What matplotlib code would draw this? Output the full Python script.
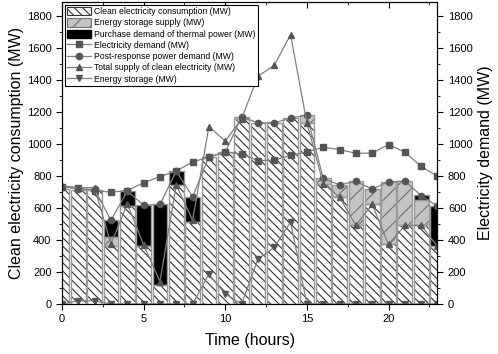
import numpy as np
import matplotlib.pyplot as plt
from matplotlib.patches import Patch
from matplotlib.lines import Line2D
from matplotlib.ticker import MultipleLocator

plt.rcParams['font.family'] = ['Liberation Sans', 'DejaVu Sans']
plt.rcParams['hatch.linewidth'] = 0.8

hours = np.arange(24)

# stacked bars (MW)
clean_use = [720, 715, 715, 362, 615, 362, 122, 748, 512, 922, 950, 1155,
             1134, 1134, 1163, 1130, 753, 669, 492, 623, 373, 492, 492, 360]
storage_supply = [0, 0, 0, 57, 0, 0, 0, 0, 0, 0, 0, 15,
                  0, 0, 0, 52, 33, 77, 277, 96, 392, 277, 161, 0]
thermal = [0, 0, 0, 105, 92, 256, 501, 84, 159, 0, 0, 0,
           0, 0, 0, 0, 0, 0, 0, 0, 0, 0, 28, 252]

# line series (MW)
demand = [735, 725, 710, 700, 710, 759, 798, 832, 889, 920, 950, 940,
          898, 900, 931, 952, 981, 967, 943, 945, 998, 950, 862, 799]
post_response = [735, 720, 717, 524, 707, 618, 623, 832, 671, 922, 950, 1170,
                 1134, 1134, 1163, 1182, 786, 746, 769, 719, 765, 769, 679, 612]
clean_supply = [740, 728, 728, 375, 627, 371, 140, 746, 524, 1111, 1019, 1160,
                1426, 1493, 1686, 1133, 753, 669, 492, 623, 373, 492, 492, 360]
storage = [0, 20, 20, 0, 0, 0, 0, 0, 0, 187, 62, 0,
           281, 354, 514, 0, 0, 0, 0, 0, 0, 0, 0, 0]

fig = plt.figure(figsize=(4.98, 3.54), dpi=100)
ax = fig.add_axes([0.1245, 0.1412, 0.754, 0.853])

w = 0.9
edge = '#9a9a9a'
hatch_clean = '\\\\\\\\'
clean_use = np.array(clean_use)
storage_supply = np.array(storage_supply)
thermal = np.array(thermal)

# fill + hatch, then outline on top (keeps hatch dark and edge light)
ax.bar(hours, clean_use, w, color='white', edgecolor='#333333', hatch=hatch_clean, linewidth=0)
ax.bar(hours, storage_supply, w, bottom=clean_use, color='#c4c4c4',
       edgecolor='#707070', hatch='//', linewidth=0)
ax.bar(hours, thermal, w, bottom=clean_use + storage_supply, color='black', linewidth=0)
for b, h in [(0, clean_use), (clean_use, storage_supply),
             (clean_use + storage_supply, thermal)]:
    hh = np.array(h)
    ax.bar(hours[hh > 0], hh[hh > 0], w, bottom=np.broadcast_to(b, hours.shape)[hh > 0],
           fill=False, edgecolor=edge, linewidth=1.0)

lc = '#808080'
mc = '#555555'
kw = dict(color=lc, linewidth=0.9, markerfacecolor=mc, markeredgecolor=mc)
ax.plot(hours, demand, marker='s', markersize=4, **kw)
ax.plot(hours, post_response, marker='o', markersize=4.5, **kw)
ax.plot(hours, clean_supply, marker='^', markersize=5, **kw)
ax.plot(hours, storage, marker='v', markersize=5, **kw)

ax.set_xlim(0, 23)
ax.set_ylim(0, 1890)
ax.xaxis.set_major_locator(MultipleLocator(5))
ax.xaxis.set_minor_locator(MultipleLocator(2.5))
ax.yaxis.set_major_locator(MultipleLocator(200))
ax.yaxis.set_minor_locator(MultipleLocator(100))
ax.tick_params(which='both', direction='out', labelsize=8, top=True)
ax.tick_params(which='major', length=4)
ax.tick_params(which='minor', length=2.5)
ax.set_xlabel('Time (hours)', fontsize=11.5, labelpad=6)
ax.set_ylabel('Clean electricity consumption (MW)', fontsize=11.5, labelpad=2)

ax2 = ax.twinx()
ax2.set_ylim(ax.get_ylim())
ax2.yaxis.set_major_locator(MultipleLocator(200))
ax2.yaxis.set_minor_locator(MultipleLocator(100))
ax2.tick_params(which='both', direction='out', labelsize=8)
ax2.tick_params(which='major', length=4)
ax2.tick_params(which='minor', length=2.5)
ax2.set_ylabel('Electricity demand (MW)', fontsize=11.5, labelpad=4)

# top ticks pointing inward
for t in ax.xaxis.get_major_ticks() + ax.xaxis.get_minor_ticks():
    t.tick2line.set_marker(3)

handles = [
    Patch(facecolor='white', edgecolor='#333333', hatch=hatch_clean, linewidth=0.8),
    Patch(facecolor='#c4c4c4', edgecolor='#707070', hatch='//', linewidth=0.8),
    Patch(facecolor='black', edgecolor='black'),
    Line2D([], [], marker='s', markersize=4, **kw),
    Line2D([], [], marker='o', markersize=4.5, **kw),
    Line2D([], [], marker='^', markersize=5, **kw),
    Line2D([], [], marker='v', markersize=5, **kw),
]
labels = ['Clean electricity consumption (MW)', 'Energy storage supply (MW)',
          'Purchase demand of thermal power (MW)', 'Electricity demand (MW)',
          'Post-response power demand (MW)', 'Total supply of clean electricity (MW)',
          'Energy storage (MW)']
leg = ax2.legend(handles, labels, loc='upper left', fontsize=6.2, frameon=True,
                 fancybox=False, edgecolor='black', framealpha=1,
                 handlelength=2.8, handleheight=1.1, labelspacing=0.25,
                 borderpad=0.3, handletextpad=0.3, borderaxespad=0.3)
leg.get_frame().set_linewidth(0.8)

fig.savefig('out.png', dpi=100)
